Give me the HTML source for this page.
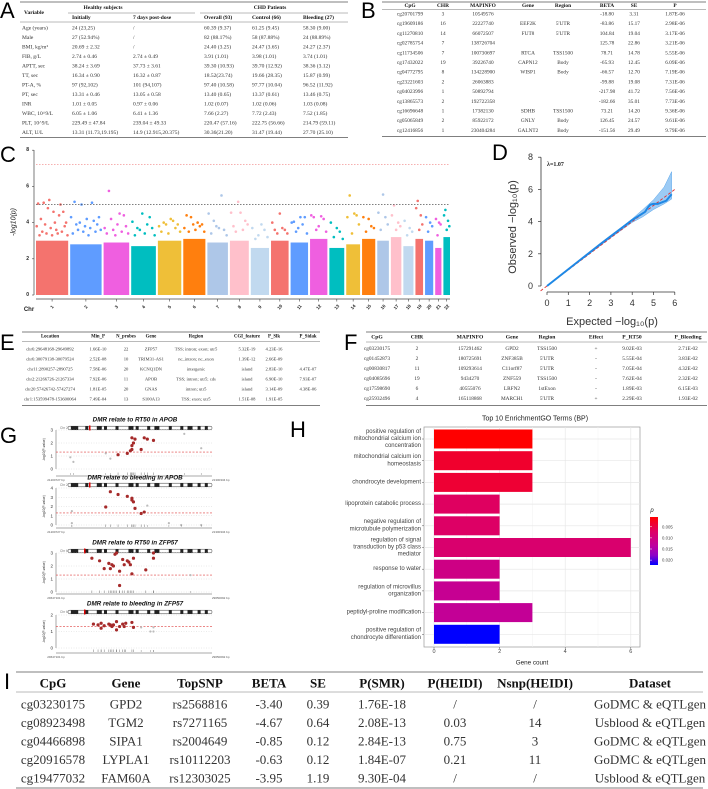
<!DOCTYPE html>
<html><head><meta charset="utf-8"><style>
html,body{margin:0;padding:0;background:#fff;}
svg{display:block;font-family:"Liberation Serif",serif;}
.lab{font-family:"Liberation Sans",sans-serif;font-size:22px;fill:#000;}
</style></head><body>
<svg id="fig" width="708" height="789" viewBox="0 0 708 789" xmlns="http://www.w3.org/2000/svg">
<text class="lab" x="0" y="18">A</text>
<text class="lab" x="361" y="18">B</text>
<text class="lab" x="0" y="162">C</text>
<text class="lab" x="492" y="160">D</text>
<text class="lab" x="0" y="350">E</text>
<text class="lab" x="344" y="350">F</text>
<text class="lab" x="0" y="443">G</text>
<text class="lab" x="290" y="437">H</text>
<text class="lab" x="4" y="689">I</text>
<g id="layer"></g>
</svg>
<script>
// ---------- DATA ----------
const tableAHead=["Variable","Initially","7 days post-dose","Overall (93)","Control (66)","Bleeding (27)"];
const tableARows=[
["Age (years)","24 (23,25)","/","60.39 (9.37)","61.25 (9.45)","58.30 (9.00)"],
["Male","27 (52.94%)","/","82 (88.17%)","58 (87.88%)","24 (88.89%)"],
["BMI, kg/m²","20.69 ± 2.32","/","24.40 (3.25)","24.47 (3.65)","24.27 (2.37)"],
["FIB, g/L","2.74 ± 0.46","2.74 ± 0.49","3.91 (1.01)","3.98 (1.01)","3.74 (1.01)"],
["APTT, sec","38.24 ± 3.69","37.73 ± 3.61","39.30 (10.93)","39.70 (12.92)","38.36 (3.12)"],
["TT, sec","16.34 ± 0.90","16.32 ± 0.87","18.52(23.74)","19.66 (28.35)","15.87 (0.99)"],
["PT-A, %","97 (92,102)","101 (94,107)","97.40 (10.58)","97.77 (10.04)","96.52 (11.92)"],
["PT, sec","13.31 ± 0.46","13.05 ± 0.58","13.40 (0.65)","13.37 (0.61)","13.46 (0.75)"],
["INR","1.01 ± 0.05","0.97 ± 0.06","1.02 (0.07)","1.02 (0.06)","1.03 (0.08)"],
["WBC, 10^9/L","6.05 ± 1.06","6.41 ± 1.36","7.66 (2.27)","7.72 (2.43)","7.52 (1.85)"],
["PLT, 10^9/L","229.49 ± 47.84","239.04 ± 49.33","220.47 (57.16)","222.75 (56.66)","214.79 (59.11)"],
["ALT, U/L","13.31 (11.73,19.195)","14.9 (12.915,20.375)","30.36(21.20)","31.47 (19.44)","27.70 (25.10)"]];
const tableBHead=["CpG","CHR","MAPINFO","Gene","Region","BETA","SE","P"];
const tableBRows=[
["cg20701799","3","10549576","","","-18.80","3.31","1.87E-06"],
["cg19609186","16","22227740","EEF2K","5'UTR","-83.86","15.17","2.98E-06"],
["cg11270810","14","66072507","FUT8","5'UTR","104.84","19.04","3.17E-06"],
["cg02785754","7","138726704","","","125.78","22.86","3.21E-06"],
["cg11734506","7","100730697","RTCA","TSS1500","78.71","14.78","5.55E-06"],
["cg17432022","19","39226740","CAPN12","Body","-65.93","12.45","6.09E-06"],
["cg04772795","8","134228900","WISP1","Body","-66.57","12.70","7.19E-06"],
["cg23221603","2","26063883","","","-99.88","19.08","7.31E-06"],
["cg04023996","1","50892794","","","-217.98","41.72","7.56E-06"],
["cg13865573","2","192722358","","","-182.66","35.01","7.73E-06"],
["cg16696648","1","17382130","SDHB","TSS1500","73.21","14.20","9.36E-06"],
["cg05065849","2","85922172","GNLY","Body","126.45","24.57","9.61E-06"],
["cg12416856","1","230404284","GALNT2","Body","-151.56","29.49","9.79E-06"]];
const tableEHead=["Location","Min_P","N_probes","Gene","Region","CGI_feature","P_Slk","P_Sidak"];
const tableERows=[
["chr6:29648168-29649892","1.66E-10","22","ZFP57","TSS; intron; exon; utr5","5.32E-19","4.23E-16",""],
["chr6:30079138-30079524","2.52E-08","10","TRIM31-AS1","nc_intron; nc_exon","1.39E-12","2.66E-09",""],
["chr11:2890257-2890725","7.58E-06","20","KCNQ1DN","intergenic","island","2.83E-10","4.47E-07"],
["chr2:21266726-21267334","7.92E-06","11","APOB","TSS; intron; utr5; cds","island","6.90E-10","7.93E-07"],
["chr20:57426742-57427274","1.81E-05","20","GNAS","intron; utr5","island","3.14E-09","4.38E-06"],
["chr1:153599478-153600064","7.49E-04","13","S100A13","TSS; exon; utr5","1.51E-08","1.91E-05",""]];
const tableFHead=["CpG","CHR","MAPINFO","Gene","Region","Effect","P_RT50","P_Bleeding"];
const tableFRows=[
["cg03230175","2","157291462","GPD2","TSS1500","+","9.02E-03","2.71E-02"],
["cg01452873","2","180725691","ZNF385B","5'UTR","-","5.55E-04","3.83E-02"],
["cg00830817","11","109293614","C11orf87","5'UTR","-","7.05E-04","4.32E-02"],
["cg04085696","19","9434270","ZNF559","TSS1500","-","7.62E-04","2.32E-02"],
["cg17598690","6","40555076","LRFN2","1stExon","-","1.89E-03","6.15E-03"],
["cg25932496","4","165118868","MARCH1","5'UTR","+","2.29E-03","1.93E-02"]];
const tableIHead=["CpG","Gene","TopSNP","BETA","SE","P(SMR)","P(HEIDI)","Nsnp(HEIDI)","Dataset"];
const tableIRows=[
["cg03230175","GPD2","rs2568816","-3.40","0.39","1.76E-18","/","/","GoDMC & eQTLgen"],
["cg08923498","TGM2","rs7271165","-4.67","0.64","2.08E-13","0.03","14","Usblood & eQTLgen"],
["cg04466898","SIPA1","rs2004649","-0.85","0.12","2.84E-13","0.75","3","GoDMC & eQTLgen"],
["cg20916578","LYPLA1","rs10112203","-0.63","0.12","1.84E-07","0.21","11","GoDMC & eQTLgen"],
["cg19477032","FAM60A","rs12303025","-3.95","1.19","9.30E-04","/","/","Usblood & eQTLgen"]];

// Manhattan (C)
const chrNames=["1","2","3","4","5","6","7","8","9","10","11","12","13","14","15","16","17","18","19","20","21","22"];
const chrLengths=[249,243,198,191,181,171,159,146,141,136,135,134,115,107,102,90,81,78,59,63,48,51];
const chrBodyTop=[3.0,2.8,2.9,2.7,3.0,3.1,2.9,3.0,2.6,3.0,2.9,3.1,2.6,2.8,3.1,3.0,3.2,2.7,3.1,3.0,2.6,3.2];
const chrPeaks=[
[3.8,5.05,3.3,4.2,3.5,5.1,3.9,3.4,4.8,5.25,3.7,3.3,4.6,4.0,3.6,3.4,4.4,5.0,3.5,4.6,3.8,4.0,3.3],
[4.3,3.4,5.15,3.9,3.6,4.0,5.0,3.5,3.8,4.2,3.3,3.7,5.1,4.1,3.5,3.9,4.3,3.6],
[3.7,3.4,5.75,4.2,3.6,3.3,3.9,4.5,3.5,4.4,3.8,3.4],
[4.05,3.3,3.7,3.6,4.5,3.4,3.9,4.3,3.7,3.3],
[3.8,3.5,4.0,3.9,3.4,4.2,4.1,3.7,3.9,3.5],
[3.7,4.4,3.5,4.3,3.9,3.6,4.0,3.8,3.9,3.5],
[4.5,3.4,4.1,3.8,3.7,5.5,3.6,3.3],
[4.55,3.8,3.5,5.15,4.55,3.6,4.1,3.9],
[3.7,3.1,3.3,3.9,3.6,3.2],
[4.0,3.6,3.4,4.5,3.7,3.6,3.4],
[4.0,4.05,3.5,3.7,4.3,3.9,4.3,3.4],
[4.4,4.3,3.6,3.8,4.35,4.2,3.5],
[4.0,3.2,3.7,3.5,3.1],
[4.3,5.5,3.4,4.5,4.4,3.9],
[4.3,3.5,4.2,3.8,3.7],
[4.55,3.6,5.55,4.3,3.9],
[4.4,4.95,3.6,4.0,3.8],
[4.1,3.3,3.7,3.5],
[4.8,5.2,3.6,4.4,3.9],
[4.3,3.5,4.0,3.8],
[4.2,3.3,4.0,3.9],
[4.4,4.7,3.6,4.1,3.8]];
const mhYTicks=[0,2,4,6,8];
const mhRedLine=7.2, mhBlackLine=5;

// QQ (D)
const qqExp=[0,0.5,1,1.5,2,2.5,3,3.5,4,4.3,4.6,4.75,4.85,5.0,5.2,5.4,5.6,5.85];
const qqObs=[0,0.52,1.04,1.56,2.08,2.6,3.1,3.6,4.1,4.35,4.6,4.9,5.05,5.1,5.1,5.2,5.3,5.7];
const bandX=[0,1,2,3,4,4.5,5,5.5,5.85];
const bandUpper=[0,1.05,2.1,3.12,4.17,4.75,5.35,6.15,7.1];
const bandLower=[0,1.0,2.0,3.0,3.95,4.3,4.75,5.1,5.4];
const qqXTicks=[0,1,2,3,4,5,6], qqYTicks=[0,2,4,6,8];
const qqLambda="λ=1.07";

// G
const gTitles=["DMR relate to RT50 in APOB","DMR relate to bleeding in APOB","DMR relate to RT50 in ZFP57","DMR relate to bleeding in ZFP57"];
const gChr=["Chr 2","Chr 2","Chr 6","Chr 6"];
const gStart=["21200727 bp","21200727 bp","29647101 bp","29647101 bp"];
const gEnd=["21300334 bp","21300334 bp","29650092 bp","29650092 bp"];
const gYMax=[3,4,3,2];
const gRed=[
[[39,1.1],[45,1.2],[47,1.4],[48,1.5],[48,1.8],[48,2.4],[49,2.0],[50,2.3],[54,1.5],[56,2.4],[58,2.3],[62,2.2]],
[[31,1.95],[34,3.6],[39,3.3],[45,3.1],[48,2.9],[48,2.7],[49,2.5],[50,1.8],[54,1.25],[56,1.4]],
[[22,2.6],[27,2.4],[30,1.8],[33,2.2],[34,1.8],[35,2.1],[36,2.0],[37,2.9],[38,3.0],[40,1.6],[40,0.5],[42,2.5],[43,2.1],[45,2.4],[46,2.3],[47,2.1],[48,1.4],[49,2.6],[57,1.7],[62,3.0],[62,2.6]],
[[23,1.45],[26,1.4],[28,1.5],[28,1.2],[30,1.35],[33,1.45],[34,1.4],[35,1.3],[36,1.4],[38,1.6],[38,1.1],[40,1.3],[42,1.45],[43,1.3],[44,1.5],[48,1.55],[49,1.25]]];
const gGrey=[
[[8,0.9],[10,0.55],[31,1.2],[34,0.8],[82,2.7],[93,1.6]],
[[9,1.5],[9,0.2],[58,2.1],[72,0.2],[80,0],[93,0]],
[[86,1.3]],
[[54,1.25],[60,1.0],[62,1.0],[62,1.25]]];
const gThreshold=1.3;

// H
const goTerms=[["positive regulation of","mitochondrial calcium ion","concentration"],["mitochondrial calcium ion","homeostasis"],["chondrocyte development"],["lipoprotein catabolic process"],["negative regulation of","microtubule polymerization"],["regulation of signal","transduction by p53 class","mediator"],["response to water"],["regulation of microvillus","organization"],["peptidyl-proline modification"],["positive regulation of","chondrocyte differentiation"]];
const goCounts=[3,3,3,2,2,6,2,2,3,2];
const goPvals=[0.0006,0.0035,0.004,0.0068,0.0072,0.008,0.0105,0.012,0.0125,0.0222];
const goXTicks=[0,2,4,6];
const goLegendTicks=[0.005,0.010,0.015,0.020];

// ---------- DRAW ----------
const NS="http://www.w3.org/2000/svg";
const L=document.getElementById("layer");
function el(tag,attrs,parent){const e=document.createElementNS(NS,tag);for(const k in attrs)e.setAttribute(k,attrs[k]);(parent||L).appendChild(e);return e;}
function txt(x,y,s,size,opts){const o=opts||{};const t=el("text",{x:x,y:y,"font-size":size,"text-anchor":o.anchor||"middle",fill:o.fill||"#222","font-weight":o.weight||"normal","font-style":o.style||"normal","dominant-baseline":"central"});if(o.family)t.setAttribute("font-family",o.family);if(o.rot)t.setAttribute("transform","rotate("+o.rot+" "+x+" "+y+")");t.textContent=s;return t;}
function line(x1,y1,x2,y2,st,w,dash){const l=el("line",{x1:x1,y1:y1,x2:x2,y2:y2,stroke:st||"#444","stroke-width":w||0.6});if(dash)l.setAttribute("stroke-dasharray",dash);return l;}

function drawTable(name,head,rows,cols,anchors,x1,x2,yTop,yHead,yHLine,yRow0,dy,yBottom,size,hsize){
  let l=line(x1,yTop,x2,yTop,"#555",0.8);
  
  
  l=line(x1,yHLine,x2,yHLine,"#777",0.5);
  
  
  l=line(x1,yBottom,x2,yBottom,"#555",0.8);
  
  
  head.forEach((h,i)=>{const t=txt(cols[i],yHead,h,hsize,{anchor:anchors[i],weight:"bold",fill:"#111"});
    
    });
  rows.forEach((r,j)=>{r.forEach((c,i)=>{if(!c)return;const t=txt(cols[i],yRow0+j*dy,c,size,{anchor:anchors[i],fill:"#333"});
    
    });});
}
drawTable("table-a",[],tableARows,[22,72,133,204,252,303],["start","start","start","start","start","start"],20,348,2,0,22,28.5,9.5,137.5,5.5,5.5);
(function(){const hs=[["Variable",24,13,"start"],["Healthy subjects",103,8,"middle"],["CHD Patients",270,8,"middle"]];
hs.forEach(h=>{const t=txt(h[1],h[2],h[0],5.5,{anchor:h[3],weight:"bold",fill:"#111"});

});
let l=line(68,13,195,13,"#777",0.5);


l=line(200,13,348,13,"#777",0.5);


const sub=tableAHead.slice(1);[72,133,204,252,303].forEach((x,i)=>{const t=txt(x,18,sub[i],5.5,{anchor:"start",weight:"bold",fill:"#111"});

});})();
drawTable("table-b",tableBHead,tableBRows,[410,443,483,528,563,607,634,675],Array(8).fill("middle"),382,706,2,6,9.5,14.5,9.7,136.5,5.3,5.4);
drawTable("table-e",tableEHead,tableERows,[50,98,126,151,196,247,274,308],Array(8).fill("middle"),22,320,332,337,341.5,349,10,405.5,4.6,4.8);
drawTable("table-f",tableFHead,tableFRows,[377,417,470,512,547,596,632,688],Array(8).fill("middle"),366,707,332,337.5,342,349,10,405.5,5.3,5.6);
drawTable("table-i",tableIHead,tableIRows,[53,126,200,269,318,382,455,535,650],Array(9).fill("middle"),16,703,672,683,692,704,18.5,788,13,13);

// ---- C: Manhattan ----
(function(){
const X0=36,X1=450,gap=2,Y0=295,ky=18.1;
const yv=v=>Y0-v*ky;
const tot=chrLengths.reduce((a,b)=>a+b,0);
const usable=X1-X0-gap*(chrLengths.length-1);
const cols=["#f4736e","#5f9cff","#ef5fe0","#00bec0","#efbf38","#ff7f0e","#aec7e8","#ffc0cb","#c1d9ef"];
let l=line(34,150,34,Y0,"#444",0.7);


l=line(X0,299,X1,299,"#444",0.7);


mhYTicks.forEach(v=>{const tl=line(32,yv(v),34,yv(v),"#444",0.6);


const t=txt(29,yv(v),String(v),5,{anchor:"end",family:"Liberation Sans",weight:"bold"});

});
const yt=txt(14,222,"-log10(p)",7,{family:"Liberation Sans",rot:-90,style:"italic"});


const ct=txt(29,310,"Chr",6,{family:"Liberation Sans",weight:"bold"});


let x=X0;
chrLengths.forEach((len,i)=>{
  const w=len/tot*usable, c=cols[i%9];
  const r=el("rect",{x:x,y:yv(chrBodyTop[i]),width:w,height:yv(0)-yv(chrBodyTop[i]),fill:c});
  
  
  const pk=chrPeaks[i];
  pk.forEach((v,j)=>{const cx=x+w*(j+0.5)/pk.length;
    const p=el("circle",{cx:cx,cy:yv(v),r:1.3,fill:c});
    
    });
  const tl=line(x+w/2,299,x+w/2,301.5,"#444",0.6);
  
  
  const t=txt(x+w/2,307,chrNames[i],4.5,{family:"Liberation Sans",weight:"bold",rot:-50});
  
  
  x+=w+gap;});
l=line(X0,yv(mhRedLine),X1,yv(mhRedLine),"#f08080",0.7,"1.5,1.5");


l=line(X0,yv(mhBlackLine),X1,yv(mhBlackLine),"#555",0.7,"1.5,1.5");


})();

// ---- D: QQ ----
(function(){
const x0=547,sx=21.3,y0=286,sy=16.1;
const X=v=>x0+v*sx,Y=v=>y0-v*sy;
let l=line(541,Y(8),541,Y(0),"#333",0.8);


l=line(X(0),292,X(6),292,"#333",0.8);


qqYTicks.forEach(v=>{const tl=line(538,Y(v),541,Y(v),"#333",0.7);


const t=txt(533,Y(v),String(v),9,{family:"Liberation Sans",anchor:"end",fill:"#333"});

});
qqXTicks.forEach(v=>{const tl=line(X(v),292,X(v),295,"#333",0.7);


const t=txt(X(v),303,String(v),9,{family:"Liberation Sans",fill:"#333"});

});
const xt=txt(612,322,"Expected  −log₁₀(p)",11,{family:"Liberation Sans",fill:"#333"});


const yt=txt(513,227,"Observed  −log₁₀(p)",11,{family:"Liberation Sans",fill:"#333",rot:-90});


let pts=bandX.map((v,i)=>X(v)+","+Y(bandUpper[i]));
pts=pts.concat(bandX.map((v,i)=>X(v)+","+Y(bandLower[i])).reverse());
const band=el("polygon",{points:pts.join(" "),fill:"#9ccbf5",stroke:"#5aa5ea","stroke-width":0.5});


const d=line(X(-0.3),Y(-0.3),X(6),Y(6),"#e03030",0.9,"3,2");


const pl=el("polyline",{points:qqExp.map((v,i)=>X(v)+","+Y(qqObs[i])).join(" "),fill:"none",stroke:"#1e88e5","stroke-width":2});


const lt=txt(547,165,qqLambda,6,{anchor:"start",weight:"bold",fill:"#222"});


})();

// ---- G: regional plots ----
(function(){
const geo=[{t:420,ideo:428,top:430,y0:469,bl:480},{t:478,ideo:485,top:488,y0:525,bl:532},{t:543,ideo:551,top:553,y0:592,bl:598},{t:604,ideo:612,top:615,y0:648,bl:657}];
const ax=56,x0=58,x1=212;
const bands=[0.02,0.05,0.12,0.2,0.25,0.33,0.42,0.47,0.55,0.6,0.7,0.78,0.83,0.9,0.95];
geo.forEach((g,k)=>{
  const Y=v=>g.y0-v*(g.y0-g.top)/gYMax[k];
  const X=p=>x0+p/100*(x1-x0);
  const tt=txt(135,g.t,gTitles[k],6.3,{family:"Liberation Sans",weight:"bold",style:"italic",fill:"#111"});
  
  
  const id=el("rect",{x:68,y:g.ideo-1.8,width:144,height:3.6,fill:"#fff",stroke:"#333","stroke-width":0.5,rx:1.5});
  
  
  bands.forEach((b,j)=>{const r=el("rect",{x:68+b*144,y:g.ideo-1.8,width:j%3===0?5:3,height:3.6,fill:"#222"});
    
    });
  const mk=el("rect",{x:k<2?89:84,y:g.ideo-2.5,width:1.5,height:5,fill:"#d00"});
  
  
  const cl=txt(60,g.ideo,gChr[k],3.2,{family:"Liberation Sans",anchor:"start",fill:"#777"});
  
  
  let l=line(ax,g.top,ax,g.y0,"#555",0.5);
  
  
  l=line(ax,g.bl-4,x1,g.bl-4,"#555",0.5);
  
  
  for(let v=0;v<=gYMax[k];v++){
    const gl=line(ax,Y(v),x1,Y(v),"#ccc",0.4,"1,1.5");
    
    
    const t=txt(ax-3,Y(v),String(v),4.5,{family:"Liberation Sans",anchor:"end",fill:"#333"});
    
    }
  const th=line(ax,Y(gThreshold),x1,Y(gThreshold),"#e04040",0.6,"2,1.5");
  
  
  const yl=txt(44,(g.top+g.y0)/2,"-log10(P-value)",3.3,{family:"Liberation Sans",rot:-90,fill:"#333"});
  
  
  const s=txt(ax,g.bl,gStart[k],3,{family:"Liberation Sans",anchor:"middle",fill:"#555"});
  
  
  const e=txt(x1,g.bl,gEnd[k],3,{family:"Liberation Sans",anchor:"start",fill:"#555"});
  
  
  gGrey[k].forEach(p=>{const c=el("circle",{cx:X(p[0]),cy:Y(p[1]),r:1.1,fill:"#bbb"});
    
    
    const m=line(X(p[0]),g.bl-7,X(p[0]),g.bl-5,"#777",0.4);
    
    });
  gRed[k].forEach(p=>{const c=el("circle",{cx:X(p[0]),cy:Y(p[1]),r:1.6,fill:"#a52a2a"});
    
    
    const m=line(X(p[0]),g.bl-7.5,X(p[0]),g.bl-5,"#555",0.4);
    
    });
});
})();

// ---- H: GO bar chart ----
(function(){
const px0=424,px1=640,py0=427,py1=647,x0=434,kx=32.8,row0=439,dy=21.7,bh=19;
const X=v=>x0+v*kx;
const pmin=Math.min(...goPvals),pmax=Math.max(...goPvals);
function col(p){const t=(p-pmin)/(pmax-pmin);
 const st=[[0,255,0,0],[0.3,222,0,100],[0.6,190,0,160],[0.8,140,0,200],[1,0,0,255]];
 for(let i=0;i<st.length-1;i++){const a=st[i],b=st[i+1];if(t<=b[0]){const u=(t-a[0])/(b[0]-a[0]);return "rgb("+[1,2,3].map(j=>Math.round(a[j]+(b[j]-a[j])*u)).join(",")+")";}}return "rgb(0,0,255)";}
const panel=el("rect",{x:px0,y:py0,width:px1-px0,height:py1-py0,fill:"#fff",stroke:"#999","stroke-width":0.7});


[1,3,5].forEach(v=>{const g=line(X(v),py0,X(v),py1,"#f2f2f2",0.5);

});
goXTicks.forEach(v=>{const g=line(X(v),py0,X(v),py1,"#e6e6e6",0.7);


const tl=line(X(v),py1,X(v),py1+2,"#555",0.5);


const t=txt(X(v),652,String(v),5.5,{family:"Liberation Sans",fill:"#444"});

});
goCounts.forEach((c,i)=>{const cy=row0+i*dy;
 const hg=line(px0,cy,px1,cy,"#e6e6e6",0.7);
 
 
 const r=el("rect",{x:X(0),y:cy-bh/2,width:X(c)-X(0),height:bh,fill:col(goPvals[i])});
 
 
 const lines=goTerms[i];
 lines.forEach((s,j)=>{const t=txt(421,cy+(j-(lines.length-1)/2)*7.2,s,6,{family:"Liberation Sans",anchor:"end",fill:"#444"});
  
  });
 const tk=line(px0-2,cy,px0,cy,"#555",0.5);
 
 });
const tt=txt(535,419,"Top 10 EnrichmentGO Terms (BP)",7,{family:"Liberation Sans",fill:"#222"});


const xt=txt(532,663,"Gene count",6.3,{family:"Liberation Sans",fill:"#222"});


const defs=el("defs",{});
const lg=el("linearGradient",{id:"pgrad",x1:0,y1:0,x2:0,y2:1},defs);
[0,0.3,0.6,0.8,1].forEach(o=>{el("stop",{offset:o,"stop-color":col(pmin+o*(pmax-pmin))},lg);});
const ly0=517,ly1=565;
const cb=el("rect",{x:650,y:ly0,width:8,height:ly1-ly0,fill:"url(#pgrad)"});


const lt=txt(652,511,"p",6,{family:"Liberation Sans",style:"italic",fill:"#222"});


goLegendTicks.forEach(v=>{const y=ly0+(v-pmin)/(pmax-pmin)*(ly1-ly0);
 const t=txt(662,y,v.toFixed(3),4.3,{family:"Liberation Sans",anchor:"start",fill:"#444"});
 
 
 const tl=line(650,y,652,y,"#fff",0.5);
 
 });
})();
</script>
</body></html>
